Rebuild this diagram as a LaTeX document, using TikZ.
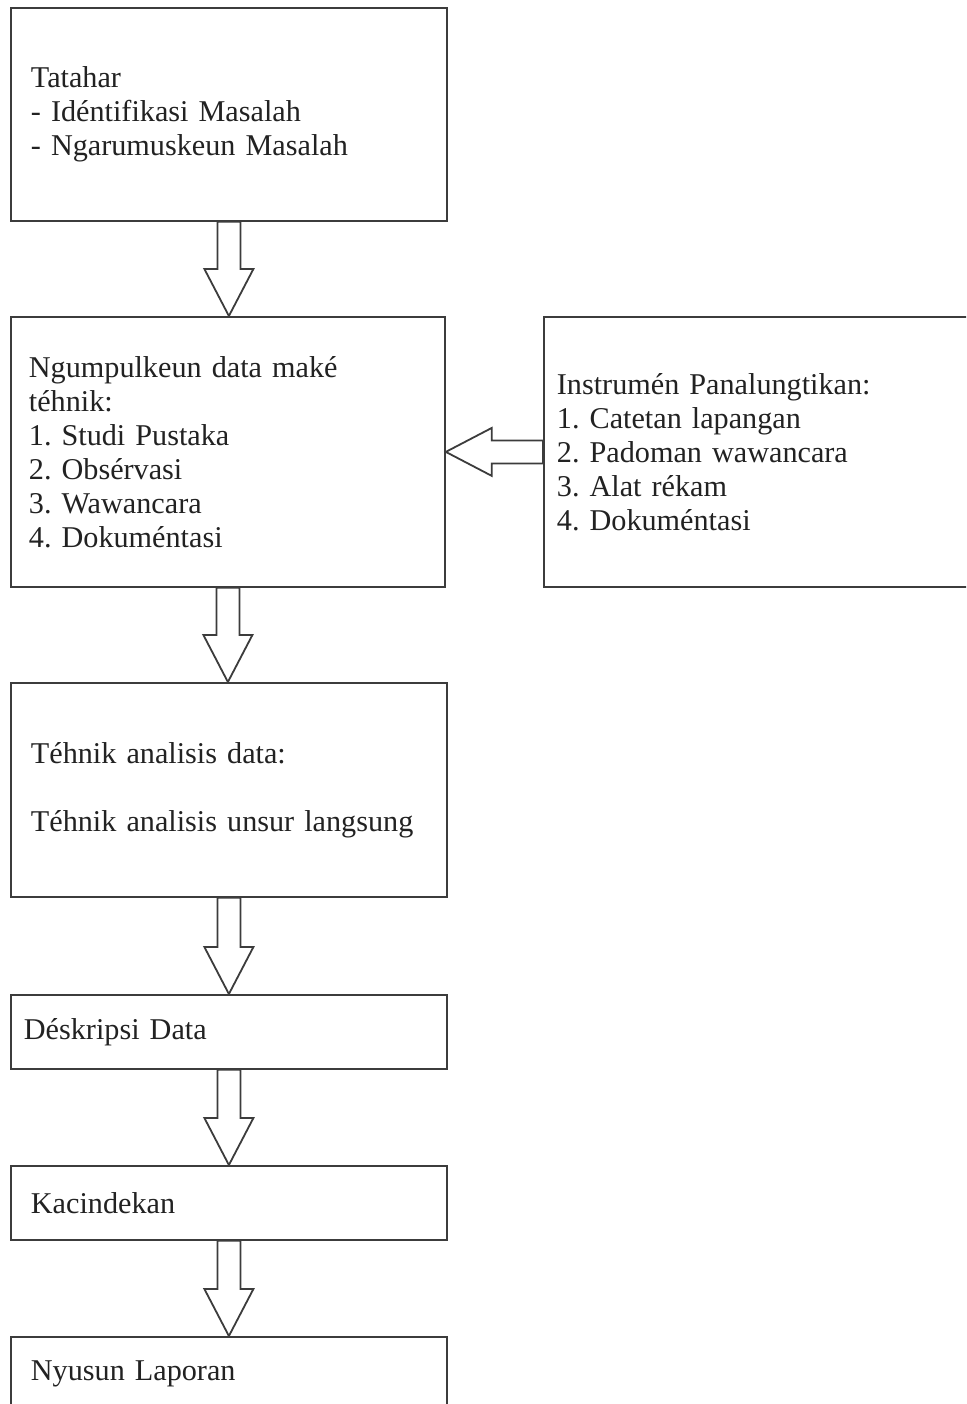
\documentclass[tikz,border=0pt]{standalone}
\usepackage{fontspec}
\setmainfont{Liberation Serif}
\frenchspacing
\usetikzlibrary{calc}
\definecolor{linec}{HTML}{3C3C3C}
\definecolor{txtc}{HTML}{222222}
\newcommand\blkdown[2]{%
  \draw[blk] let \p1=(#1.south), \p2=(#2.north) in
    (\x1-11.5pt,\y1) -- (\x1+11.5pt,\y1) -- (\x1+11.5pt,\y2+47pt) --
    (\x1+24.5pt,\y2+47pt) -- (\x1,\y2) -- (\x1-24.5pt,\y2+47pt) --
    (\x1-11.5pt,\y2+47pt) -- cycle;}
\begin{document}
\begin{tikzpicture}[x=1pt,y=-1pt,
  box/.style={draw=linec, line width=1.8pt, anchor=north west, align=left,
    text=txtc, font=\fontsize{30.2}{34}\selectfont, inner ysep=0pt},
  blk/.style={draw=linec, line width=1.8pt, fill=white, line join=miter}]
\clip (0,0) rectangle (966,1404);
\fill[white] (0,0) rectangle (966,1404);
\node[box, minimum width=436pt, minimum height=213pt, inner xsep=20pt, text width=396pt] (b1) at (10,7)
  {Tatahar\\- Idéntifikasi Masalah\\- Ngarumuskeun Masalah};
\node[box, minimum width=434pt, minimum height=270pt, inner xsep=18pt, text width=398pt] (b2) at (10,316)
  {Ngumpulkeun data maké\\ téhnik:\\1. Studi Pustaka\\2. Obsérvasi\\3. Wawancara\\4. Dokuméntasi};
\node[box, minimum width=440pt, minimum height=270pt, inner xsep=13pt, text width=414pt] (br) at (543,316)
  {Instrumén Panalungtikan:\\1. Catetan lapangan\\2. Padoman wawancara\\3. Alat rékam\\4. Dokuméntasi};
\node[box, minimum width=436pt, minimum height=214pt, inner xsep=20pt, text width=396pt] (b3) at (10,682)
  {Téhnik analisis data:\\[34pt]Téhnik analisis unsur langsung};
\node[box, minimum width=436pt, minimum height=74pt, inner xsep=13pt, text width=410pt] (b4) at (10,994)
  {Déskripsi Data};
\node[box, minimum width=436pt, minimum height=74pt, inner xsep=20pt, text width=396pt] (b5) at (10,1165)
  {Kacindekan};
\node[box, minimum width=436pt, minimum height=74pt, inner xsep=20pt, text width=396pt] (b6) at (10,1336)
  {Nyusun Laporan};
\blkdown{b1}{b2}
\blkdown{b2}{b3}
\blkdown{b3}{b4}
\blkdown{b4}{b5}
\blkdown{b5}{b6}
\draw[blk] let \p1=(br.west), \p2=(b2.east) in
  (\x1,\y1+11.5pt) -- (\x2+46pt,\y1+11.5pt) -- (\x2+46pt,\y1+24pt) -- (\x2,\y1) --
  (\x2+46pt,\y1-24pt) -- (\x2+46pt,\y1-11.5pt) -- (\x1,\y1-11.5pt) -- cycle;
\end{tikzpicture}
\end{document}
